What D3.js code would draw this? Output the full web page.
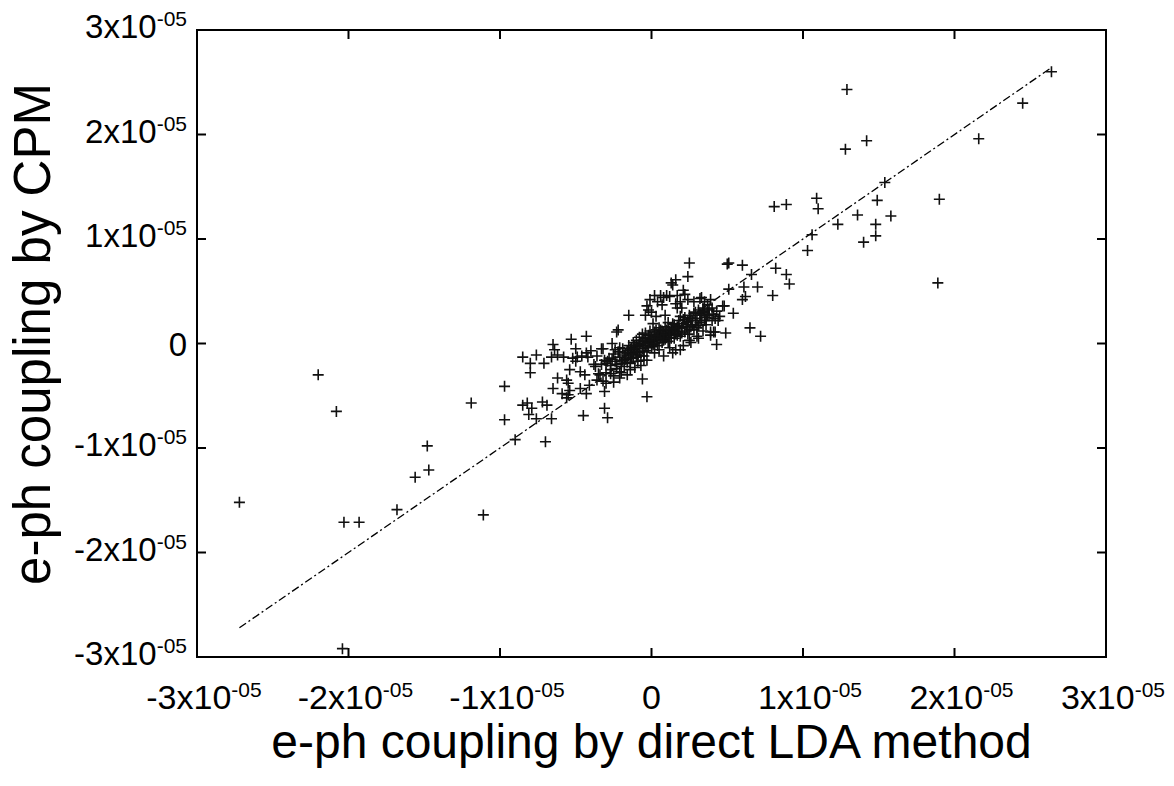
<!DOCTYPE html>
<html>
<head>
<meta charset="utf-8">
<script src="https://cdn.jsdelivr.net/npm/d3@7"></script>
<style>
  body { margin: 0; background: #fff; }
  svg { display: block; }
  text { font-family: "Liberation Sans", Arial, sans-serif; fill: #000; }
</style>
</head>
<body>
<div id="chart"></div>
<script>
// values are in units of 1e-5 (the axes print them as Nx10^-05)
var xTicks = [-3, -2, -1, 0, 1, 2, 3];
var yTicks = [-3, -2, -1, 0, 1, 2, 3];
var exponentLabel = "-05";

var xTitle = "e-ph coupling by direct LDA method";
var yTitle = "e-ph coupling by CPM";

// [LDA value, CPM value] - outliers on the negative side
var leftPoints = [
  [-2.72,-1.52],[-2.20,-0.30],[-2.08,-0.65],[-2.03,-1.71],[-1.93,-1.71],[-2.04,-2.92],
  [-1.68,-1.59],[-1.56,-1.28],[-1.48,-0.98],[-1.47,-1.21],[-1.11,-1.64],[-1.19,-0.57],
  [-0.97,-0.41],[-0.97,-0.73],[-0.90,-0.92],[-0.70,-0.94]
];

// lower left part of the cloud
var midLeftPoints = [
  [-0.85,-0.13],[-0.80,-0.19],[-0.80,-0.28],[-0.76,-0.11],[-0.71,-0.19],[-0.85,-0.59],
  [-0.82,-0.57],[-0.79,-0.62],[-0.81,-0.68],[-0.76,-0.72],[-0.72,-0.56],[-0.69,-0.59],
  [-0.66,-0.72],[-0.65,-0.01],[-0.64,-0.06],[-0.66,-0.13],[-0.62,-0.11],[-0.58,-0.13],
  [-0.53,0.04],[-0.43,0.07],[-0.50,-0.05],[-0.49,-0.13],[-0.50,-0.17],[-0.54,-0.25],
  [-0.62,-0.33],[-0.56,-0.35],[-0.55,-0.38],[-0.65,-0.43],[-0.59,-0.48],[-0.56,-0.52],
  [-0.54,-0.45],[-0.47,-0.43],[-0.47,-0.27],[-0.44,-0.30],[-0.45,-0.69],[-0.43,-0.48],
  [-0.41,-0.40],[-0.42,-0.13],[-0.43,-0.09],[-0.37,-0.22],[-0.35,-0.29],[-0.36,-0.35],
  [-0.31,-0.46],[-0.31,-0.62],[-0.29,-0.71],[-0.33,-0.05],[-0.30,-0.19],[-0.27,-0.29],
  [-0.25,-0.37],[-0.23,0.11],[-0.26,0.00],[-0.06,-0.34],[-0.03,-0.51],[-0.21,-0.33],
  [-0.30,-0.38],[-0.55,-0.49],[-0.52,-0.14],[-0.46,-0.12]
];

// positive side, incl. the far outliers
var rightPoints = [
  [2.64,2.60],[2.45,2.30],[2.16,1.96],[1.29,2.43],[1.28,1.86],[1.42,1.94],[1.54,1.54],
  [1.49,1.37],[1.58,1.22],[1.36,1.23],[1.48,1.14],[1.48,1.03],[1.40,0.97],[1.23,1.14],
  [1.09,1.39],[1.10,1.29],[1.06,1.04],[1.03,0.89],[0.89,1.33],[0.81,1.31],[1.90,1.38],
  [1.89,0.58],[0.82,0.72],[0.89,0.66],[0.91,0.57],[0.70,0.54],[0.80,0.46],[0.66,0.66],
  [0.50,0.76],[0.51,0.77],[0.60,0.75],[0.61,0.54],[0.62,0.45],[0.60,0.42],[0.51,0.52],
  [0.48,0.36],[0.54,0.29],[0.65,0.15],[0.72,0.07],[0.49,0.10],[0.41,0.11],[0.39,0.08],
  [0.43,-0.01],[0.42,0.24],[0.37,0.32],[0.33,0.44],[0.35,0.40],[0.34,0.34],[0.37,0.37],
  [0.32,0.27],[0.35,0.22],[0.39,0.42],[0.40,0.34]
];

// the dense core around zero
var corePoints = [
  [0.25,0.77],[0.24,0.64],[0.16,0.61],[0.14,0.56],[0.13,0.58],[0.21,0.51],[0.02,0.46],
  [0.06,0.46],[0.10,0.46],[0.17,0.46],[-0.01,0.42],[-0.02,0.32],[0.07,0.37],[0.16,0.38],
  [0.17,0.34],[0.24,0.42],[0.32,0.43],[-0.15,0.27],[-0.22,0.13],[0.01,0.19],[0.03,0.26],
  [0.09,0.27],[0.24,0.18],[0.32,0.29],[0.36,0.22],[0.42,0.11],[0.30,0.07],[0.25,0.03],
  [0.19,-0.06],[0.16,-0.06],[-0.05,-0.16],[-0.14,-0.25],[-0.12,-0.14],[-0.21,-0.27],
  [-0.27,-0.25],[-0.32,-0.05],[-0.31,-0.16],
  [-0.28,-0.14],[-0.25,-0.10],[-0.24,-0.17],[-0.22,-0.08],[-0.21,-0.13],[-0.20,-0.19],
  [-0.19,-0.05],[-0.18,-0.11],[-0.17,-0.15],[-0.16,-0.07],[-0.15,-0.02],[-0.15,-0.12],
  [-0.14,-0.09],[-0.13,-0.04],[-0.12,-0.10],[-0.12,0.01],[-0.11,-0.06],[-0.10,-0.13],
  [-0.10,0.03],[-0.09,-0.03],[-0.08,-0.08],[-0.08,0.06],[-0.07,0.00],[-0.06,-0.05],
  [-0.06,0.09],[-0.05,0.02],[-0.04,-0.02],[-0.04,0.05],[-0.03,-0.07],[-0.02,0.01],
  [-0.02,0.08],[-0.01,0.04],[0.00,-0.03],[0.00,0.02],[0.01,0.07],[0.01,-0.01],
  [0.02,0.11],[0.03,0.03],[0.03,0.06],[0.04,-0.02],[0.05,0.09],[0.05,0.04],[0.06,0.13],
  [0.07,0.01],[0.07,0.07],[0.08,0.10],[0.09,0.04],[0.09,0.16],[0.10,0.08],[0.11,0.12],
  [0.11,0.02],[0.12,0.06],[0.13,0.15],[0.13,0.10],[0.14,0.19],[0.15,0.05],[0.15,0.12],
  [0.16,0.09],[0.17,0.16],[0.18,0.12],[0.18,0.22],[0.19,0.07],[0.20,0.15],[0.21,0.19],
  [0.22,0.11],[0.22,0.25],[0.23,0.16],[0.24,0.21],[0.25,0.13],[0.26,0.24],[0.27,0.18],
  [0.28,0.29],[0.29,0.22],[0.30,0.15],[0.31,0.32],[0.32,0.20],[0.33,0.27],[0.34,0.12],
  [0.35,0.30],[0.36,0.25],[0.38,0.28],[0.40,0.22],[0.43,0.31],[0.45,0.26],[0.47,0.36],
  [-0.30,-0.28],[-0.27,-0.21],[-0.25,-0.31],[-0.23,-0.24],[-0.20,-0.28],[-0.18,-0.22],
  [-0.16,-0.30],[-0.14,-0.19],[-0.11,-0.23],[-0.09,-0.17],[-0.07,-0.21],[-0.05,-0.12],
  [-0.03,-0.16],[0.02,-0.09],[0.05,-0.06],[0.08,-0.12],[0.12,-0.04],[0.14,-0.09],
  [0.21,-0.02],[0.26,0.01],[-0.36,-0.12],[-0.38,-0.20],[-0.40,-0.07],[-0.34,-0.30],
  [-0.32,-0.36],[0.31,0.05],[0.39,0.11],
  [-0.33,-0.20],[-0.29,-0.17],[-0.26,-0.15],[-0.24,-0.06],[-0.23,-0.20],[-0.21,-0.04],
  [-0.19,-0.16],[-0.17,-0.09],[-0.16,-0.18],[-0.14,-0.05],[-0.13,-0.14],[-0.11,-0.02],
  [-0.10,-0.08],[-0.09,-0.11],[-0.08,-0.01],[-0.07,-0.12],[-0.06,0.03],[-0.05,-0.08],
  [-0.04,0.10],[-0.03,0.00],[-0.02,-0.04],[-0.01,0.12],[0.00,0.06],[0.01,0.03],
  [0.02,0.00],[0.03,0.13],[0.04,0.08],[0.05,0.15],[0.06,0.05],[0.07,0.12],[0.08,0.03],
  [0.09,0.09],[0.10,0.13],[0.11,0.20],[0.12,0.10],[0.13,0.05],[0.14,0.13],[0.15,0.18],
  [0.16,0.14],[0.17,0.08],[0.18,0.17],[0.19,0.26],[0.20,0.10],[0.21,0.23],[0.23,0.20],
  [0.24,0.09],[0.25,0.27],[0.26,0.16],[0.27,0.22],[0.28,0.13],[0.29,0.30],[0.30,0.24],
  [0.31,0.17],[0.33,0.22],[0.34,0.31],[0.36,0.18],[0.37,0.27],[0.38,0.33],[0.41,0.28],
  [0.44,0.22],[-0.04,0.27],[-0.03,0.36],[0.00,0.30],[0.04,0.40],[0.08,0.44],[0.12,0.45],
  [0.19,0.40],[0.22,0.47],[0.28,0.40],[0.20,0.34]
];

var width = 1174, height = 786;
var svg, xScale, yScale;

function tickLabel(sel, v) {
  if (v === 0) { sel.text("0"); return; }
  sel.append("tspan").text(v + "x10");
  sel.append("tspan").attr("font-size", 21).attr("dy", -12).text(exponentLabel);
}

function drawAxes() {
  var x0 = xScale.range()[0], x1 = xScale.range()[1];
  var yb = yScale.range()[0], yt = yScale.range()[1];
  var tl = 9;

  var g = svg.append("g").attr("stroke", "#000").attr("stroke-width", 2);

  // inward ticks on all four sides
  xTicks.forEach(function (t) {
    var x = xScale(t);
    g.append("line").attr("x1", x).attr("x2", x).attr("y1", yb).attr("y2", yb - tl);
    g.append("line").attr("x1", x).attr("x2", x).attr("y1", yt).attr("y2", yt + tl);
  });
  yTicks.forEach(function (t) {
    var y = yScale(t);
    g.append("line").attr("x1", x0).attr("x2", x0 + tl).attr("y1", y).attr("y2", y);
    g.append("line").attr("x1", x1).attr("x2", x1 - tl).attr("y1", y).attr("y2", y);
  });

  // frame
  svg.append("rect")
    .attr("x", x0).attr("y", yt)
    .attr("width", x1 - x0).attr("height", yb - yt)
    .attr("fill", "none").attr("stroke", "#000").attr("stroke-width", 2);

  // tick labels (gnuplot puts the exponent labels a bit right of centre)
  xTicks.forEach(function (t) {
    svg.append("text")
      .attr("x", xScale(t) + (t === 0 ? 0 : 7)).attr("y", 709)
      .attr("text-anchor", "middle").attr("font-size", 34)
      .call(tickLabel, t);
  });
  yTicks.forEach(function (t) {
    svg.append("text")
      .attr("x", 187).attr("y", yScale(t) + (t === 0 ? 12 : 8))
      .attr("text-anchor", "end").attr("font-size", 33)
      .call(tickLabel, t);
  });

  // titles
  svg.append("text")
    .attr("x", xScale(0)).attr("y", 758)
    .attr("text-anchor", "middle").attr("font-size", 48)
    .text(xTitle);
  svg.append("text")
    .attr("transform", "translate(50,334) rotate(-90)")
    .attr("text-anchor", "middle").attr("font-size", 51)
    .text(yTitle);
}

function init() {
  svg = d3.select("#chart").append("svg")
    .attr("width", width).attr("height", height);

  xScale = d3.scaleLinear().domain([-3, 3]).range([197, 1106]);
  yScale = d3.scaleLinear().domain([-3, 3]).range([657, 30]);

  var allPoints = leftPoints.concat(midLeftPoints, rightPoints, corePoints);

  // y = x reference line across the data range
  var ext = d3.extent(allPoints, function (d) { return d[0]; });
  var line = d3.line()
    .x(function (d) { return xScale(d); })
    .y(function (d) { return yScale(d); });
  svg.append("path")
    .datum(ext)
    .attr("d", line)
    .attr("fill", "none").attr("stroke", "#000")
    .attr("stroke-width", 1.3)
    .attr("stroke-dasharray", "8,3,2,3");

  // points as plus markers
  svg.append("g")
    .selectAll("path")
    .data(allPoints)
    .enter().append("path")
    .attr("transform", function (d) { return "translate(" + xScale(d[0]) + "," + yScale(d[1]) + ")"; })
    .attr("d", "M-5.5,0H5.5M0,-5.5V5.5")
    .attr("stroke", "#111").attr("stroke-width", 1.6).attr("fill", "none");

  drawAxes();
}

window.onload = init;
</script>
</body>
</html>
